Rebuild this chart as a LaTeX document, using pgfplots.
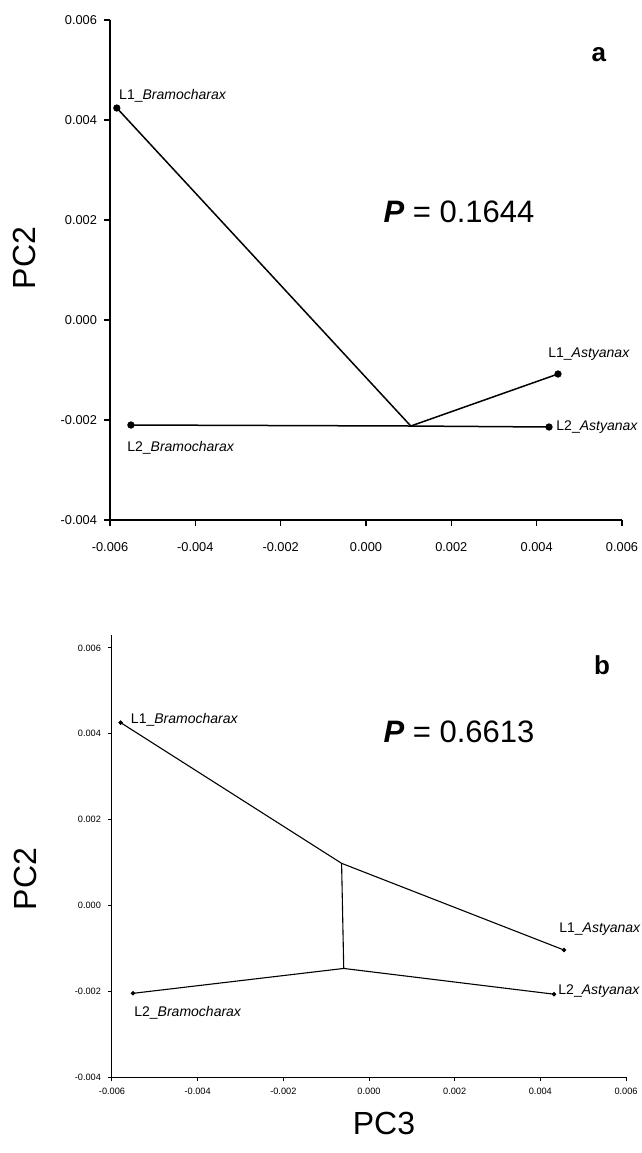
\documentclass[border=0pt]{standalone}
\usepackage{pgfplots}
\pgfplotsset{compat=1.18}
\usepackage{fontspec}
\setmainfont{Liberation Sans}
\newcommand{\lab}{\fontsize{7}{8}\selectfont}
\begin{document}
\begin{tikzpicture}[x=1pt,y=1pt]
\useasboundingbox (0pt,0pt) rectangle (321pt,-576.5pt);
% ---------- panel a ----------
\begin{axis}[
  at={(55pt,-260pt)}, anchor=south west,
  width=256pt, height=250pt, scale only axis,
  xmin=-0.006, xmax=0.006, ymin=-0.004, ymax=0.006,
  axis lines*=left, axis line style={-, line width=0.8pt},
  xtick={-0.006,-0.004,...,0.0061}, ytick={-0.004,-0.002,...,0.0061},
  tick align=outside, major tick length=3pt, tick style={black, line width=0.6pt},
  /pgf/number format/assume math mode=true,
  /pgf/number format/.cd, fixed, fixed zerofill, precision=3, /tikz/.cd,
  scaled ticks=false,
  ticklabel style={font=\fontsize{6.4}{7}\selectfont},
  xticklabel style={yshift=-4.5pt},
  clip=false,
]
\addplot[black, line width=0.75pt] coordinates {(-0.00584,0.00424) (0.00105,-0.00212) (0.00450,-0.00108)};
\addplot[black, line width=0.75pt] coordinates {(-0.00551,-0.00210) (0.00105,-0.00212) (0.00429,-0.00214)};
\addplot[only marks, mark=*, mark size=1.6pt, black] coordinates {(-0.00584,0.00424) (-0.00551,-0.00210) (0.00450,-0.00108) (0.00429,-0.00214)};
\node[anchor=west, inner sep=0pt, xshift=1pt, yshift=6pt] at (axis cs:-0.00584,0.00424) {\lab L1\_\textit{Bramocharax}};
\node[anchor=west, inner sep=0pt, xshift=-2pt, yshift=-11.5pt] at (axis cs:-0.00551,-0.00210) {\lab L2\_\textit{Bramocharax}};
\node[anchor=center, inner sep=0pt, xshift=15.5pt, yshift=10pt] at (axis cs:0.00450,-0.00108) {\lab L1\_\textit{Astyanax}};
\node[anchor=west, inner sep=0pt, xshift=3.5pt] at (axis cs:0.00429,-0.00214) {\lab L2\_\textit{Astyanax}};
\end{axis}
\node at (229.5pt,-106pt) {\fontsize{15.5}{18}\selectfont\textbf{\textit{P}} = 0.1644};
\node at (299.5pt,-27.5pt) {\fontsize{13}{15}\selectfont\textbf{a}};
\node[rotate=90] at (12pt,-129pt) {\fontsize{16}{18}\selectfont PC2};
% ---------- panel b ----------
\begin{axis}[
  at={(56pt,-538.5pt)}, anchor=south west,
  width=257pt, height=221pt, scale only axis,
  xmin=-0.006, xmax=0.006, ymin=-0.004, ymax=0.0063,
  axis lines*=left, axis line style={-, line width=0.5pt},
  xtick={-0.006,-0.004,...,0.0061}, ytick={-0.004,-0.002,...,0.0061},
  tick align=outside, major tick length=2pt, tick style={black, line width=0.5pt},
  /pgf/number format/assume math mode=true,
  /pgf/number format/.cd, fixed, fixed zerofill, precision=3, /tikz/.cd,
  scaled ticks=false,
  ticklabel style={font=\fontsize{4.6}{5}\selectfont},
  clip=false,
]
\addplot[black, line width=0.55pt] coordinates {(-0.00580,0.00426) (-0.00064,0.00098) (0.00455,-0.00104)};
\addplot[black, line width=0.55pt] coordinates {(-0.00551,-0.00205) (-0.00059,-0.00147) (0.00432,-0.00207)};
\addplot[black, line width=0.55pt] coordinates {(-0.00064,0.00098) (-0.00059,-0.00147)};
\addplot[only marks, mark=*, mark size=0.9pt, black] coordinates {(-0.00580,0.00426) (-0.00551,-0.00205) (0.00455,-0.00104) (0.00432,-0.00207)};
\node[anchor=west, inner sep=0pt, xshift=5pt, yshift=1.3pt] at (axis cs:-0.00580,0.00426) {\lab L1\_\textit{Bramocharax}};
\node[anchor=west, inner sep=0pt, xshift=0.5pt, yshift=-9.5pt] at (axis cs:-0.00551,-0.00205) {\lab L2\_\textit{Bramocharax}};
\node[anchor=west, inner sep=0pt, xshift=-2.5pt, yshift=10.5pt] at (axis cs:0.00455,-0.00104) {\lab L1\_\textit{Astyanax}};
\node[anchor=west, inner sep=0pt, xshift=2pt, yshift=1.5pt] at (axis cs:0.00432,-0.00207) {\lab L2\_\textit{Astyanax}};
\end{axis}
\node at (229.5pt,-366pt) {\fontsize{15.5}{18}\selectfont\textbf{\textit{P}} = 0.6613};
\node at (301pt,-332.5pt) {\fontsize{13}{15}\selectfont\textbf{b}};
\node[rotate=90] at (12.5pt,-439.5pt) {\fontsize{16}{18}\selectfont PC2};
\node at (192pt,-561.75pt) {\fontsize{16}{18}\selectfont PC3};
\end{tikzpicture}
\end{document}
